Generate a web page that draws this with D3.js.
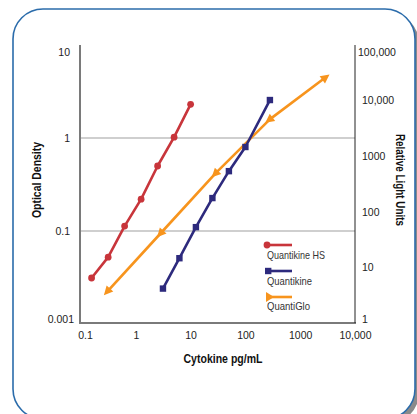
<!DOCTYPE html>
<html>
<head>
<meta charset="utf-8">
<script src="https://cdn.jsdelivr.net/npm/d3@7"></script>
<style>
  html, body { margin: 0; padding: 0; background: #fff; }
  svg { display: block; }
  .tick text { font-family: "Liberation Sans", Arial, sans-serif; font-size: 10.5px; fill: #222; }
  .title { font-family: "Liberation Sans", Arial, sans-serif; font-weight: bold; font-size: 13px; fill: #111; }
  .legend text { font-family: "Liberation Sans", Arial, sans-serif; font-size: 10.5px; fill: #333; }
</style>
</head>
<body>
<svg id="chart" width="417" height="414"></svg>
<script>
// Concentrations (pg/mL) and responses for each assay
const hsConc = [0.156, 0.313, 0.625, 1.25, 2.5, 5, 10];
const hsOD = [0.0095, 0.027, 0.113, 0.22, 0.50, 1.02, 2.30];

const qkConc = [3.13, 6.25, 12.5, 25, 50, 100, 280];
const qkOD = [0.0056, 0.0256, 0.11, 0.226, 0.44, 0.80, 2.56];

const qgConc = [0.31, 2.9, 29, 282, 2800];
const qgRLU = [3.8, 42, 500, 4650, 25500];

const seriesNames = ["Quantikine HS", "Quantikine", "QuantiGlo"];

// Axis ticks and their labels
const xTicks = [0.1, 1, 10, 100, 1000, 10000];
const xTickLabels = ["0.1", "1", "10", "100", "1000", "10,000"];
const odTicks = [0.001, 0.1, 1, 10];
const odTickLabels = ["0.001", "0.1", "1", "10"];
const rluTicks = [1, 10, 100, 1000, 10000, 100000];
const rluTickLabels = ["1", "10", "100", "1000", "10,000", "100,000"];
const gridValues = [0.1, 1];

const svg = d3.select("#chart");

// Framed panel with a soft shadow
svg.append("rect").attr("x", 17).attr("y", 13).attr("width", 402).attr("height", 410)
  .attr("rx", 30).attr("fill", "#8a8a8a");
svg.append("rect").attr("x", 13).attr("y", 9).attr("width", 402).attr("height", 410)
  .attr("rx", 30).attr("fill", "#fff").attr("stroke", "#2b6cab").attr("stroke-width", 1.6);

const plotLeft = 81, plotRight = 355, plotTop = 45, plotBottom = 323;

const x = d3.scaleLog().domain([0.1, 10000]).range([plotLeft, plotRight]);
const yOD = d3.scaleLog().domain([0.001, 0.1, 1, 10]).range([plotBottom, 231, 138, plotTop]);
const yRLU = d3.scaleLog().domain([1, 100000]).range([plotBottom, plotTop]);

// Gridlines
svg.append("g").selectAll("line").data(gridValues).join("line")
  .attr("x1", plotLeft).attr("x2", plotRight)
  .attr("y1", d => yOD(d)).attr("y2", d => yOD(d))
  .attr("stroke", "#a0a0a0").attr("stroke-width", 1.2);

// Axis lines
svg.append("line").attr("x1", plotLeft - 1).attr("x2", plotLeft - 1).attr("y1", plotTop).attr("y2", plotBottom + 1)
  .attr("stroke", "#7a7a7a").attr("stroke-width", 2);
svg.append("line").attr("x1", plotLeft - 2).attr("x2", plotRight + 1).attr("y1", plotBottom).attr("y2", plotBottom)
  .attr("stroke", "#7a7a7a").attr("stroke-width", 2);
svg.append("line").attr("x1", plotRight).attr("x2", plotRight).attr("y1", plotTop).attr("y2", plotBottom)
  .attr("stroke", "#222").attr("stroke-width", 1);

// Tick labels (end labels pulled slightly inward)
function nudge(sel, n, dx, dy) {
  sel.selectAll(".tick text").each(function (d, i) {
    const t = d3.select(this);
    if (i === 0) t.attr("transform", `translate(${dx[0]},${dy[0]})`);
    if (i === n - 1) t.attr("transform", `translate(${dx[1]},${dy[1]})`);
  });
}

const gx = svg.append("g").attr("transform", `translate(0,${plotBottom})`)
  .call(d3.axisBottom(x).tickValues(xTicks).tickSize(0).tickPadding(9)
    .tickFormat((d, i) => xTickLabels[i]));
gx.select(".domain").remove();
nudge(gx, xTicks.length, [4, 0], [0, 0]);

const gl = svg.append("g").attr("transform", `translate(${plotLeft},0)`)
  .call(d3.axisLeft(yOD).tickValues(odTicks).tickSize(0).tickPadding(11)
    .tickFormat((d, i) => odTickLabels[i]));
gl.select(".domain").remove();
nudge(gl, odTicks.length, [4, 0], [-4, 7]);

const gr = svg.append("g").attr("transform", `translate(${plotRight},0)`)
  .call(d3.axisRight(yRLU).tickValues(rluTicks).tickSize(0).tickPadding(7)
    .tickFormat((d, i) => rluTickLabels[i]));
gr.select(".domain").remove();
nudge(gr, rluTicks.length, [0, -4], [-4, 7]);

// Axis titles, set in a condensed width
svg.append("text").attr("class", "title").attr("x", 223).attr("y", 363)
  .attr("text-anchor", "middle").attr("textLength", 79).attr("lengthAdjust", "spacingAndGlyphs")
  .text("Cytokine pg/mL");
svg.append("text").attr("class", "title").attr("text-anchor", "middle")
  .attr("textLength", 76).attr("lengthAdjust", "spacingAndGlyphs")
  .attr("transform", "translate(41,180) rotate(-90)").text("Optical Density");
svg.append("text").attr("class", "title").attr("text-anchor", "middle")
  .attr("textLength", 92).attr("lengthAdjust", "spacingAndGlyphs")
  .attr("transform", "translate(396,180) rotate(90)").text("Relative Light Units");

const red = "#c8353b", navy = "#2d2a7d", orange = "#f7941d";

const hsPts = hsConc.map((c, i) => [x(c), yOD(hsOD[i])]);
const qkPts = qkConc.map((c, i) => [x(c), yOD(qkOD[i])]);
const qgPts = qgConc.map((c, i) => [x(c), yRLU(qgRLU[i])]);

const line = d3.line();
function drawLine(pts, color) {
  svg.append("path").attr("d", line(pts)).attr("fill", "none")
    .attr("stroke", color).attr("stroke-width", 2.6).attr("stroke-linejoin", "round");
}

drawLine(qgPts, orange);
drawLine(qkPts, navy);
drawLine(hsPts, red);

// Markers
svg.append("g").selectAll("circle").data(hsPts).join("circle")
  .attr("cx", d => d[0]).attr("cy", d => d[1]).attr("r", 3.4).attr("fill", red);
svg.append("g").selectAll("rect").data(qkPts).join("rect")
  .attr("x", d => d[0] - 3.2).attr("y", d => d[1] - 3.2)
  .attr("width", 6.4).attr("height", 6.4).attr("fill", navy);

// Triangles pointing along the curve: first and inner ones toward lower values, last one outward
const tri = "M6,0 L-3,-4.5 L-3,4.5 Z";
svg.append("g").selectAll("path").data(qgPts).join("path")
  .attr("d", tri).attr("fill", orange)
  .attr("transform", (d, i) => {
    const last = i === qgPts.length - 1;
    const a = last ? qgPts[i - 1] : qgPts[i + 1];
    const ang = Math.atan2(d[1] - a[1], d[0] - a[0]) * 180 / Math.PI;
    return `translate(${d[0]},${d[1]}) rotate(${ang})`;
  });

// Legend
const legendY = [245, 271, 297];
const legendTextY = [259, 285, 310];
const legendTextLen = [58, 45, 43];
const colors = [red, navy, orange];
const lg = svg.append("g").attr("class", "legend");
seriesNames.forEach((name, i) => {
  lg.append("line").attr("x1", 267).attr("x2", 292).attr("y1", legendY[i]).attr("y2", legendY[i])
    .attr("stroke", colors[i]).attr("stroke-width", 2.6);
  if (i === 0) lg.append("circle").attr("cx", 267).attr("cy", legendY[i]).attr("r", 3.4).attr("fill", red);
  if (i === 1) lg.append("rect").attr("x", 265).attr("y", legendY[i] - 3.2).attr("width", 6.4).attr("height", 6.4).attr("fill", navy);
  if (i === 2) lg.append("path").attr("d", "M266,292 L266,302 L274,297 Z").attr("fill", orange);
  lg.append("text").attr("x", 267).attr("y", legendTextY[i])
    .attr("textLength", legendTextLen[i]).attr("lengthAdjust", "spacingAndGlyphs").text(name);
});
</script>
</body>
</html>
